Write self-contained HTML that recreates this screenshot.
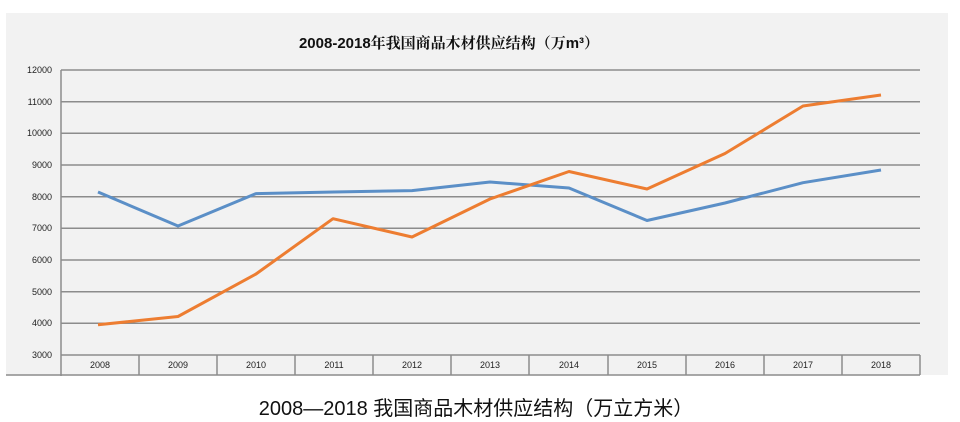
<!DOCTYPE html>
<html><head><meta charset="utf-8"><style>
html,body{margin:0;padding:0;background:#fff;width:960px;height:422px;overflow:hidden}
svg{display:block}
</style></head><body>
<svg width="960" height="422" xmlns="http://www.w3.org/2000/svg">
<rect x="6" y="13" width="942" height="362" fill="#f2f2f2"/>
<text x="449" y="48" text-anchor="middle" font-family="Liberation Sans, Noto Serif CJK SC, sans-serif" font-weight="bold" font-size="15" fill="#111">2008-2018年我国商品木材供应结构（万m³）</text>
<g stroke="#8c8c8c" stroke-width="1.5">
<line x1="61" y1="70" x2="920" y2="70"/>
<line x1="61" y1="101.7" x2="920" y2="101.7"/>
<line x1="61" y1="133.3" x2="920" y2="133.3"/>
<line x1="61" y1="165" x2="920" y2="165"/>
<line x1="61" y1="196.7" x2="920" y2="196.7"/>
<line x1="61" y1="228.3" x2="920" y2="228.3"/>
<line x1="61" y1="260" x2="920" y2="260"/>
<line x1="61" y1="291.7" x2="920" y2="291.7"/>
<line x1="61" y1="323.3" x2="920" y2="323.3"/>
<line x1="61" y1="355" x2="920" y2="355"/>
<line x1="61" y1="70" x2="61" y2="376"/>
<line x1="6" y1="375" x2="920" y2="375"/>
<line x1="139" y1="355" x2="139" y2="375"/><line x1="217" y1="355" x2="217" y2="375"/>
<line x1="295" y1="355" x2="295" y2="375"/><line x1="373" y1="355" x2="373" y2="375"/>
<line x1="451" y1="355" x2="451" y2="375"/><line x1="529" y1="355" x2="529" y2="375"/>
<line x1="608" y1="355" x2="608" y2="375"/><line x1="686" y1="355" x2="686" y2="375"/>
<line x1="764" y1="355" x2="764" y2="375"/><line x1="842" y1="355" x2="842" y2="375"/>
<line x1="920" y1="355" x2="920" y2="375"/>
</g>
<g font-family="Liberation Sans, sans-serif" font-size="9" fill="#222" text-anchor="end">
<text x="52" y="73">12000</text><text x="52" y="105">11000</text><text x="52" y="136">10000</text>
<text x="52" y="168">9000</text><text x="52" y="200">8000</text><text x="52" y="231">7000</text>
<text x="52" y="263">6000</text><text x="52" y="295">5000</text><text x="52" y="326">4000</text>
<text x="52" y="358">3000</text>
</g>
<g font-family="Liberation Sans, sans-serif" font-size="9" fill="#222" text-anchor="middle">
<text x="100" y="368">2008</text><text x="178" y="368">2009</text><text x="256" y="368">2010</text>
<text x="334" y="368">2011</text><text x="412" y="368">2012</text><text x="490" y="368">2013</text>
<text x="569" y="368">2014</text><text x="647" y="368">2015</text><text x="725" y="368">2016</text>
<text x="803" y="368">2017</text><text x="881" y="368">2018</text>
</g>
<polyline fill="none" stroke="#5b8fc7" stroke-width="3" stroke-linejoin="round" points="98,192 178,226 256,193.6 334,192 412,190.6 490,182 569,188 647,220.5 725,203 803,182.7 881,170"/>
<polyline fill="none" stroke="#ed7d31" stroke-width="3" stroke-linejoin="round" points="98,324.8 178,316.5 256,274 333,218.7 412,237 490,199 569,171.5 647,189 725,153.5 803,106 881,95"/>
<text x="476" y="415" text-anchor="middle" font-family="Liberation Sans, Noto Sans CJK SC, sans-serif" font-size="20" fill="#111">2008—2018 我国商品木材供应结构（万立方米）</text>
</svg>
</body></html>
